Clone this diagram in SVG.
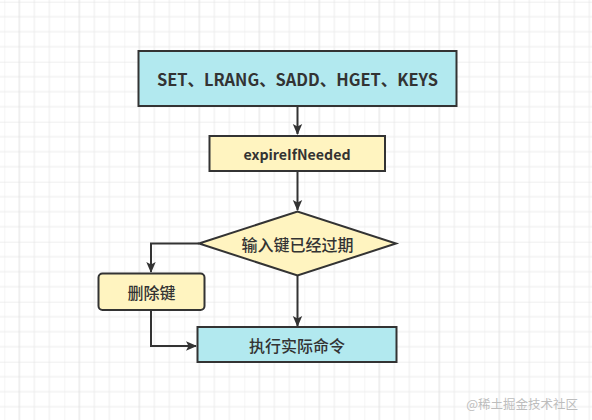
<svg xmlns="http://www.w3.org/2000/svg" width="592" height="420" viewBox="0 0 592 420">
<defs>
<pattern id="grid" patternUnits="userSpaceOnUse" x="4.3" y="1.7" width="60" height="60">
<path d="M0 0V60M30 0V60M45 0V60M0 15H60M0 30H60M0 45H60" stroke="#ececec" stroke-width="1" fill="none"/>
<path d="M15 0V60M0 0H60" stroke="#e0e0e0" stroke-width="1" fill="none"/>
</pattern>
<marker id="arr" markerWidth="11" markerHeight="11" viewBox="0 0 11 10" refX="10" refY="5" orient="auto" markerUnits="userSpaceOnUse">
<path d="M0 0.3L11 5L0 9.7L2.5 5Z" fill="#333"/>
</marker>
<style>
.box{stroke:#333;stroke-width:2}
.cyan{fill:#b2e9ef}
.yel{fill:#fff4c0}
.t{font-family:"Noto Sans CJK SC","Liberation Sans",sans-serif;fill:#333;text-anchor:middle;dominant-baseline:central}
.lat{font-weight:bold;font-size:15px}
.cjk{font-size:16px;font-weight:500}
.c{fill:none;stroke:#333;stroke-width:2}
</style>
</defs>
<rect width="592" height="420" fill="#fff"/>
<rect width="592" height="420" fill="url(#grid)"/>
<g id="connectors">
<path class="c" d="M297.5 107V134" marker-end="url(#arr)"/>
<path class="c" d="M297.5 171V210" marker-end="url(#arr)"/>
<path class="c" d="M199 243.5H151V272" marker-end="url(#arr)"/>
<path class="c" d="M297.5 275.5V326" marker-end="url(#arr)"/>
<path class="c" d="M151 310V346H196" marker-end="url(#arr)"/>
</g>
<g id="node-commands">
<rect class="box cyan" x="138.5" y="51" width="318" height="55"/>
<text class="t lat" x="297.5" y="79" style="font-size:16.5px" textLength="281" lengthAdjust="spacingAndGlyphs">SET、LRANG、SADD、HGET、KEYS</text>
</g>
<g id="node-expire">
<rect class="box yel" x="209.5" y="136" width="175.5" height="35"/>
<text class="t lat" x="297" y="153.5" style="font-size:14px" textLength="107" lengthAdjust="spacingAndGlyphs">expireIfNeeded</text>
</g>
<g id="node-decision">
<polygon class="box yel" points="199,243.5 297.5,211.5 396,243.5 297.5,275.5"/>
<text class="t cjk" x="297.5" y="243.5">输入键已经过期</text>
</g>
<g id="node-delete">
<rect class="box yel" x="98.5" y="273.5" width="106" height="36.5" rx="4"/>
<text class="t cjk" x="151.5" y="291.5">删除键</text>
</g>
<g id="node-exec">
<rect class="box cyan" x="197.5" y="327" width="199" height="35"/>
<text class="t cjk" x="297" y="344.5">执行实际命令</text>
</g>
<text x="578" y="403" style="font-family:'Noto Sans CJK SC',sans-serif;font-size:12.5px;fill:#bdbdbd;text-anchor:end;dominant-baseline:central">@稀土掘金技术社区</text>
</svg>
